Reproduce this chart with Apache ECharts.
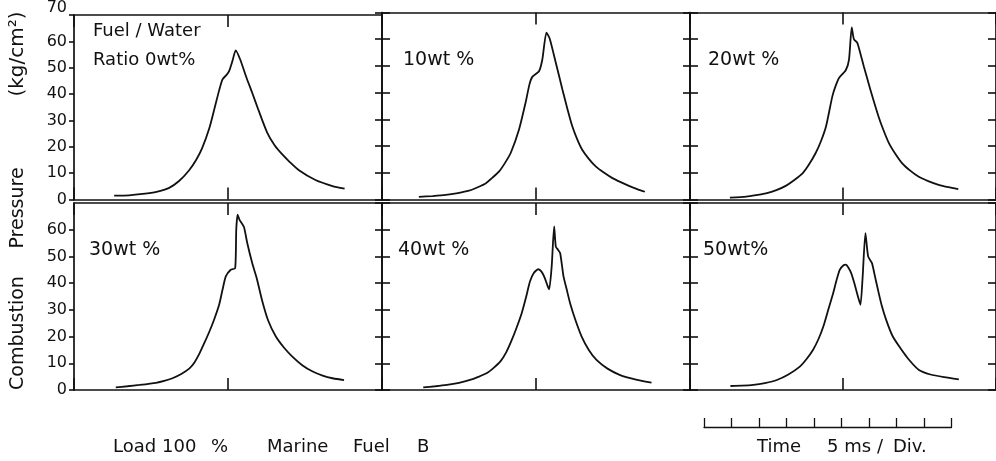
<!DOCTYPE html>
<html>
<head>
<meta charset="utf-8">
<script src="https://cdn.jsdelivr.net/npm/echarts@6/dist/echarts.min.js"></script>
<style>
  html, body { margin: 0; padding: 0; background: #ffffff; }
  #chart { width: 996px; height: 461px; }
</style>
</head>
<body>
<div id="chart"></div>
<script>
// Combustion pressure traces, Load 100 %, Marine Fuel B.
// Each point is [time in ms from the centre mark, pressure in kg/cm²].
const ratio0 = [[-20.7,1.5],[-18,1.6],[-15.5,2.1],[-13,2.9],[-10.7,4.4],[-8.9,7],[-7.1,11],[-5.8,15],[-4.7,19.5],[-3.4,27],[-2.4,35],[-1.6,41.5],[-1.0,45.6],[-0.3,47.2],[0.2,48.7],[0.8,52.5],[1.4,56.6],[2.2,53.2],[3.4,46],[4.4,40.5],[5.6,33.6],[7.1,25.5],[8.5,20.5],[10,16.8],[11.1,14.5],[12.9,11.1],[15.9,7.4],[19,5.1],[21.2,4.1]];
const ratio10 = [[-21.3,1.0],[-18.8,1.3],[-16.4,1.7],[-14.2,2.4],[-12.2,3.3],[-10.6,4.6],[-9.1,6.1],[-7.9,8.2],[-6.7,10.5],[-5.6,13.8],[-4.6,17.4],[-3.1,26.1],[-1.9,36.2],[-1.2,43],[-0.67,45.9],[0.55,48],[1.15,52.4],[1.9,62.5],[2.5,60.2],[3.6,51.2],[4.8,41.2],[5.7,34],[6.6,27.4],[7.5,22.5],[8.4,18.6],[9.6,15.2],[10.9,12.3],[12.4,10],[13.9,8],[15.4,6.5],[16.9,5.1],[18.4,3.9],[19.8,2.9]];
const ratio20 = [[-20.7,0.7],[-17.7,1.05],[-15.9,1.6],[-14.1,2.3],[-12.2,3.5],[-10.4,5.2],[-8.9,7.3],[-7.4,9.8],[-6.2,13.2],[-5,17.4],[-4,22],[-3.1,27.4],[-1.95,38.6],[-1.3,42.8],[-0.7,45.6],[0.5,48.4],[1.1,52.4],[1.6,64.4],[2,60],[2.6,58.7],[3.2,54.5],[3.8,49.9],[5,41.2],[6.5,31.1],[7.4,26],[8.4,21.1],[9.6,17],[10.8,13.6],[12.3,10.8],[13.8,8.6],[15.6,6.9],[17.5,5.5],[19.3,4.6],[21.1,3.9]];
const ratio30 = [[-20.4,1.0],[-18.3,1.4],[-16.1,1.9],[-13.1,2.7],[-11.6,3.4],[-10.1,4.4],[-8.5,6],[-7,8.1],[-6.1,10.3],[-5.2,13.6],[-4.3,17.6],[-3.4,21.8],[-2.5,26.5],[-1.6,32],[-1,37.5],[-0.4,42.5],[0.5,45],[1.3,45.6],[1.5,60],[1.75,65.6],[2.1,63.7],[2.9,61],[3.5,55],[4.4,47.5],[5.2,42],[6.2,33.5],[7.3,26],[8.7,20],[10.2,15.8],[11.7,12.5],[13.5,9.3],[15.4,6.9],[17.2,5.4],[19,4.4],[21.1,3.7]];
const ratio40 = [[-20.5,1.0],[-18.3,1.4],[-16.2,1.9],[-14,2.7],[-12,3.75],[-10.5,4.9],[-9,6.25],[-7.7,8.3],[-6.5,10.6],[-5.4,14.2],[-4.4,18.75],[-3.5,23.5],[-2.6,28.75],[-1.8,34.8],[-1.1,40.6],[-0.4,43.8],[0.4,45.2],[1.0,44.3],[1.6,41.9],[2.1,39],[2.4,37.7],[2.85,46.2],[3.3,61.2],[3.6,53.7],[4.0,52.5],[4.4,51.2],[5,42.5],[5.6,37.5],[6.2,32.5],[7.2,26],[8.3,20],[9.6,15],[11,11.25],[13,8],[15.3,5.6],[18,4],[21,2.75]];
const ratio50 = [[-20.6,1.5],[-18.5,1.6],[-16.4,1.9],[-14.3,2.6],[-12.1,3.75],[-10,5.8],[-7.9,8.75],[-6.7,11.5],[-5.5,15],[-4.5,19],[-3.6,23.75],[-2.7,30],[-1.8,36.25],[-1.2,41],[-0.6,45],[0.1,46.7],[0.5,46.9],[1.0,45.8],[1.5,43.75],[2.0,40.5],[2.4,37.5],[2.8,34.5],[3.2,31.9],[3.6,42.5],[4.1,58.75],[4.6,50],[5.3,47.5],[5.8,43],[6.4,37.5],[7.1,31.5],[7.9,26.25],[9,20.5],[10.3,16.25],[12,11.5],[13.9,7.5],[16,5.8],[18.5,4.8],[21.2,4]];

const panelLabels = ['10wt %', '20wt %', '30wt %', '40wt %', '50wt%'];
const firstLabel = ['Fuel / Water', 'Ratio 0wt%'];
const timeRange = [-28, 28];      // ms shown in each panel, centre mark at 0
const pressureRange = [0, 70];    // kg/cm²
const pressureStep = 10;
const scaleBarMs = 45;            // 9 divisions
const scaleBarStep = 5;           // 5 ms / Div.

const FONT = 'DejaVu Sans';
const INK = '#111111';
const colLeft = [74, 382, 690];
const rowTop = [12.5, 203];
const PANEL_W = 308, PANEL_H = 187;

const grids = [], xAxes = [], yAxes = [], series = [];
const traces = [ratio0, ratio10, ratio20, ratio30, ratio40, ratio50];

const frame = { show: true, onZero: false, lineStyle: { color: INK, width: 1.7 } };
const tickStyle = { color: INK, width: 1.6 };

traces.forEach((data, i) => {
  const row = Math.floor(i / 3), col = i % 3;
  grids.push({ left: colLeft[col], top: rowTop[row], width: PANEL_W, height: PANEL_H });

  const xBase = {
    type: 'value', gridIndex: i, min: timeRange[0], max: timeRange[1], interval: 28,
    axisLine: frame,
    axisTick: { show: true, inside: true, length: 12, lineStyle: tickStyle },
    axisLabel: { show: false }, splitLine: { show: false }
  };
  const xIdx = xAxes.length;
  xAxes.push(Object.assign({}, xBase, { position: 'bottom' }));
  xAxes.push(Object.assign({}, xBase, { position: 'top' }));

  const yBase = {
    type: 'value', gridIndex: i, min: pressureRange[0], max: pressureRange[1], interval: pressureStep,
    axisLine: frame, splitLine: { show: false }, axisLabel: { show: false }
  };
  const yIdx = yAxes.length;
  if (col === 0) {
    yAxes.push(Object.assign({}, yBase, {
      position: 'left',
      axisTick: { show: true, inside: false, length: 5, lineStyle: tickStyle },
      axisLabel: {
        show: true, margin: 7, color: INK, fontFamily: FONT, fontSize: 16,
        showMaxLabel: row === 0,
        formatter: v => (v === 70 ? '{hi|70}' : String(v)),
        rich: { hi: { fontFamily: FONT, fontSize: 16, color: INK, padding: [0, 0, 14, 0] } }
      }
    }));
  } else {
    yAxes.push(Object.assign({}, yBase, {
      position: 'left',
      axisTick: { show: true, inside: false, length: 7, lineStyle: tickStyle }
    }));
    yAxes.push(Object.assign({}, yBase, {
      position: 'left',
      axisTick: { show: true, inside: true, length: 8, lineStyle: tickStyle }
    }));
  }
  if (col === 2) {
    yAxes.push(Object.assign({}, yBase, {
      position: 'right',
      axisTick: { show: true, inside: true, length: 8, lineStyle: tickStyle }
    }));
  }

  series.push({
    type: 'line', xAxisIndex: xIdx, yAxisIndex: yIdx, data: data,
    showSymbol: false, smooth: 0.2, silent: true,
    lineStyle: { color: INK, width: 1.8 }
  });
});

// time scale bar under the right-hand panels
const barGrid = grids.length;
grids.push({ left: 704, top: 417, width: scaleBarMs * PANEL_W / (timeRange[1] - timeRange[0]), height: 10 });
xAxes.push({
  type: 'value', gridIndex: barGrid, min: 0, max: scaleBarMs, interval: scaleBarStep, position: 'bottom',
  axisLine: { show: true, onZero: false, lineStyle: { color: INK, width: 1.3 } },
  axisTick: { show: true, inside: true, length: 9, lineStyle: { color: INK, width: 1.3 } },
  axisLabel: { show: false }, splitLine: { show: false }
});
yAxes.push({ type: 'value', gridIndex: barGrid, min: 0, max: 1, show: false });

function txt(text, x, y, size) {
  return {
    type: 'text', x: x, y: y, silent: true,
    style: { text: text, fill: INK, font: size + 'px "' + FONT + '"', align: 'left', verticalAlign: 'middle' }
  };
}
function vtxt(text, x, y, size) {
  return {
    type: 'text', x: x, y: y, rotation: Math.PI / 2, silent: true,
    style: { text: text, fill: INK, font: size + 'px "' + FONT + '"', align: 'center', verticalAlign: 'middle' }
  };
}

const graphics = [
  vtxt('Combustion', 18, 333, 19),
  vtxt('Pressure', 18, 208, 19),
  vtxt('(kg/cm²)', 18, 54, 20),
  txt(firstLabel[0], 93, 31, 18),
  txt(firstLabel[1], 93, 60, 18),
  txt(panelLabels[0], 403, 60, 19),
  txt(panelLabels[1], 708, 60, 19),
  txt(panelLabels[2], 89, 250, 19),
  txt(panelLabels[3], 398, 250, 19),
  txt(panelLabels[4], 703, 250, 19),
  txt('Load', 113, 447, 18),
  txt('100', 162, 447, 18),
  txt('%', 211, 447, 18),
  txt('Marine', 267, 447, 18),
  txt('Fuel', 353, 447, 18),
  txt('B', 417, 447, 18),
  txt('Time', 757, 447, 18),
  txt('5 ms', 827, 447, 18),
  txt('/', 877, 447, 18),
  txt('Div.', 893, 447, 18)
];

const chart = echarts.init(document.getElementById('chart'), null, { renderer: 'canvas' });
chart.setOption({
  animation: false,
  backgroundColor: '#ffffff',
  grid: grids,
  xAxis: xAxes,
  yAxis: yAxes,
  series: series,
  graphic: graphics
});
</script>
</body>
</html>
